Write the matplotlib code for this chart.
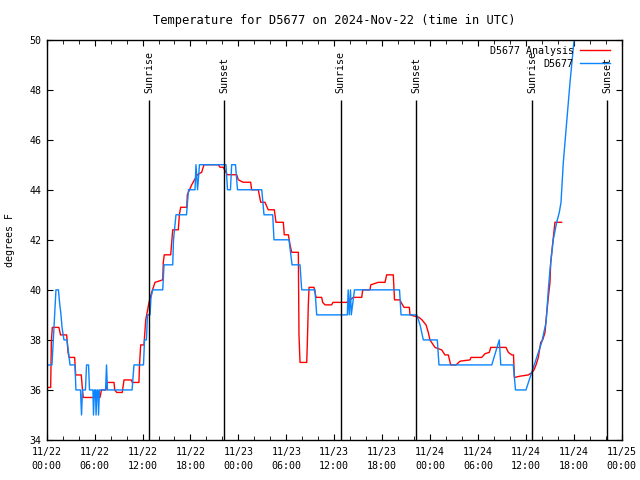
import matplotlib
matplotlib.use("Agg")
import matplotlib.pyplot as plt

# hours after 2024-11-22 00:00 UTC, temperatures in degrees F
analysis_hours = [0.0, 0.50, 0.58, 0.70, 1.53, 1.67, 1.73, 2.50, 2.67, 2.80, 3.50, 3.63,
                  4.33, 4.48, 4.58, 6.67, 6.86, 7.43, 7.59, 8.43, 8.52, 8.77, 9.46, 9.68,
                  10.60, 10.72, 11.55, 11.62, 11.77, 12.18, 12.40, 12.81, 13.15, 13.56,
                  14.53, 14.60, 14.72, 15.53, 15.78, 16.48, 16.61, 16.78, 17.54, 17.61,
                  18.16, 18.86, 19.41, 19.69, 21.49, 21.70, 22.11, 22.45, 22.61, 23.79,
                  23.99, 24.58, 25.54, 25.66, 26.49, 26.80, 27.33, 27.74, 28.50, 28.71,
                  29.63, 29.75, 30.26, 30.47, 30.68, 31.51, 31.59, 31.72, 32.56, 32.63,
                  32.76, 32.85, 33.47, 33.73, 34.43, 34.56, 34.85, 35.68, 35.84, 37.57,
                  37.98, 38.40, 39.45, 39.57, 40.48, 40.58, 41.52, 42.36, 42.57, 43.40,
                  43.55, 44.24, 44.37, 44.74, 45.41, 45.49, 46.62, 46.99, 47.50, 47.78,
                  47.99, 48.62, 49.46, 49.87, 50.29, 50.59, 51.26, 51.76, 53.00, 53.13,
                  54.47, 54.89, 55.42, 55.60, 57.51, 57.81, 58.23, 58.45, 58.57, 59.27,
                  60.31, 60.77, 61.02, 61.27, 61.56, 61.86, 62.11, 62.40, 62.53, 62.81,
                  63.02, 63.11, 63.24, 63.43, 63.64, 64.47]
analysis_temp = [36.1, 36.1, 37.9, 38.5, 38.5, 38.3, 38.2, 38.2, 37.5, 37.3, 37.3, 36.6,
                 36.6, 36.0, 35.7, 35.7, 36.0, 36.0, 36.3, 36.3, 36.0, 35.9, 35.9, 36.4,
                 36.4, 36.3, 36.3, 37.0, 37.8, 37.8, 38.8, 39.5, 39.9, 40.3,
                 40.4, 41.1, 41.4, 41.4, 42.4, 42.4, 43.0, 43.3, 43.3, 43.8,
                 44.2, 44.6, 44.7, 45.0, 45.0, 44.9, 44.9, 44.7, 44.6, 44.6,
                 44.4, 44.3, 44.3, 44.0, 44.0, 43.5, 43.5, 43.2, 43.2, 42.7,
                 42.7, 42.2, 42.2, 41.8, 41.5, 41.5, 38.2, 37.1, 37.1, 37.8,
                 39.4, 40.1, 40.1, 39.7, 39.7, 39.5, 39.4, 39.4, 39.5, 39.5,
                 39.6, 39.7, 39.7, 40.0, 40.0, 40.2, 40.3, 40.3, 40.6, 40.6,
                 39.6, 39.6, 39.5, 39.3, 39.3, 39.0, 38.9, 38.8, 38.6, 38.3,
                 38.0, 37.7, 37.6, 37.4, 37.4, 37.0, 37.0, 37.15, 37.2, 37.3,
                 37.3, 37.45, 37.5, 37.7, 37.7, 37.5, 37.4, 37.4, 36.5, 36.55,
                 36.6, 36.7, 36.8, 37.0, 37.3, 37.9, 38.0, 38.3, 38.8, 39.7,
                 40.3, 41.1, 41.5, 42.1, 42.7, 42.7]

obs_hours = [0.0, 0.10, 0.66, 0.91, 1.16, 1.47, 1.61, 1.79, 1.92, 2.16, 2.54, 2.73,
             2.92, 3.54, 3.66, 4.23, 4.36, 4.48, 4.85, 4.99, 5.24, 5.36, 5.79, 5.86,
             5.98, 6.11, 6.18, 6.30, 6.42, 6.49, 6.61, 7.37, 7.49, 7.61, 10.69, 10.93,
             12.12, 12.25, 12.49, 12.62, 12.94, 13.06, 13.28, 14.53, 14.69, 15.78,
             15.88, 16.19, 17.51, 17.63, 17.76, 18.57, 18.69, 18.89, 19.13, 22.45,
             22.64, 23.01, 23.16, 23.64, 23.89, 26.93, 27.21, 28.30, 28.46, 30.34,
             30.53, 30.72, 31.72, 31.93, 33.59, 33.81, 37.64, 37.75, 37.88, 38.04,
             38.14, 38.54, 44.18, 44.37, 46.34, 46.75, 47.16, 48.91, 49.12, 55.73,
             56.67, 56.86, 58.43, 58.70, 60.01, 60.73, 61.36, 61.98, 62.53, 62.81,
             63.02, 63.43, 63.86, 64.19, 64.40, 64.69, 65.11, 65.53, 65.95, 66.28]
obs_temp = [36.3, 37.0, 37.0, 38.5, 40.0, 40.0, 39.5, 39.0, 38.5, 38.0, 38.0, 37.5,
            37.0, 37.0, 36.0, 36.0, 35.0, 36.0, 36.0, 37.0, 37.0, 36.0, 36.0, 35.0,
            36.0, 36.0, 35.0, 36.0, 36.0, 35.0, 36.0, 36.0, 37.0, 36.0, 36.0, 37.0,
            37.0, 38.0, 38.0, 39.0, 39.0, 39.7, 40.0, 40.0, 41.0, 41.0,
            42.0, 43.0, 43.0, 43.5, 44.0, 44.0, 45.0, 44.0, 45.0, 45.0,
            44.0, 44.0, 45.0, 45.0, 44.0, 44.0, 43.0, 43.0, 42.0, 42.0,
            41.5, 41.0, 41.0, 40.0, 40.0, 39.0, 39.0, 40.0, 39.0, 40.0,
            39.0, 40.0, 40.0, 39.0, 39.0, 38.6, 38.0, 38.0, 37.0, 37.0,
            38.0, 37.0, 37.0, 36.0, 36.0, 36.7, 37.3, 37.9, 38.7, 40.0,
            40.8, 42.0, 42.7, 43.1, 43.5, 45.1, 46.7, 48.3, 49.7, 50.7]

sun_hours = [12.80, 22.23, 36.80, 46.30, 60.80, 70.20]
sun_labels = ['Sunrise', 'Sunset', 'Sunrise', 'Sunset', 'Sunrise', 'Sunset']

xtick_hours = [0, 6, 12, 18, 24, 30, 36, 42, 48, 54, 60, 66, 72]
xtick_labels = ['11/22\n00:00', '11/22\n06:00', '11/22\n12:00', '11/22\n18:00',
                '11/23\n00:00', '11/23\n06:00', '11/23\n12:00', '11/23\n18:00',
                '11/24\n00:00', '11/24\n06:00', '11/24\n12:00', '11/24\n18:00',
                '11/25\n00:00']
ytick_values = [34, 36, 38, 40, 42, 44, 46, 48, 50]

plt.rcParams['font.family'] = 'DejaVu Sans Mono'
plt.rcParams['font.size'] = 7.2

fig = plt.figure(figsize=(6.4, 4.8), dpi=100)
ax = fig.add_axes([46.7 / 640, 40 / 480, 575 / 640, 400.4 / 480])

ax.plot(analysis_hours, analysis_temp, color='#ff0000', lw=1.0, label='D5677 Analysis')
ax.plot(obs_hours, obs_temp, color='#0a84ff', lw=1.0, label='D5677')

# sunrise / sunset markers
ax.vlines(sun_hours, 34, 47.6, colors='k', lw=1.0)
for h, lab in zip(sun_hours, sun_labels):
    ax.text(h, 47.85, lab, rotation=90, ha='center', va='bottom')

ax.set_xlim(0, 72)
ax.set_ylim(34, 50)
ax.set_xticks(xtick_hours)
ax.set_xticklabels(xtick_labels, linespacing=1.45)
ax.set_xticks(range(0, 73, 2), minor=True)
ax.set_yticks(ytick_values)
ax.tick_params(which='both', direction='in', top=True, right=True)
ax.tick_params(axis='x', pad=5)
ax.tick_params(axis='y', pad=4)
ax.tick_params(which='major', length=4)
ax.tick_params(which='minor', length=3)
for s in ax.spines.values():
    s.set_linewidth(1.0)

ax.set_ylabel('degrees F', labelpad=10)
ax.set_title('Temperature for D5677 on 2024-Nov-22 (time in UTC)', pad=11)

ax.legend(loc='upper right', bbox_to_anchor=(1 - 8 / 575, 1 - 2 / 400),
          frameon=False, markerfirst=False, borderaxespad=0,
          handlelength=3.0, handletextpad=0.6, labelspacing=0.3)

fig.savefig('out.png', dpi=100)
